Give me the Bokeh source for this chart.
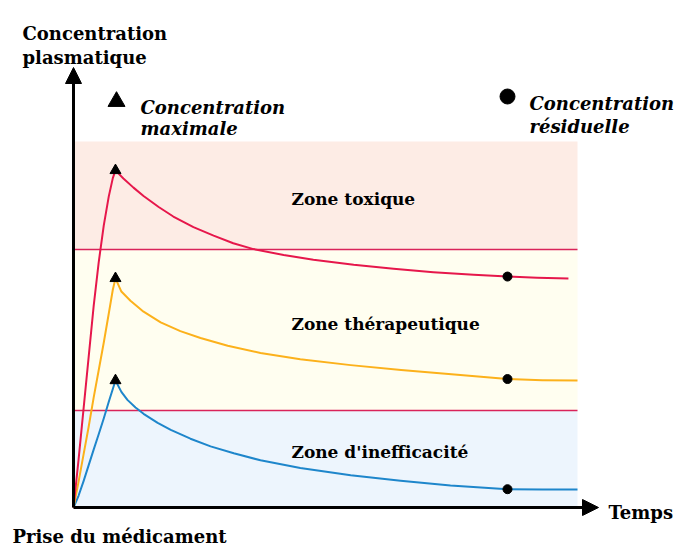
from bokeh.plotting import figure
from bokeh.models import Range1d, Label, Arrow, NormalHead
from bokeh.embed import file_html
from bokeh.resources import INLINE

# ---------------- data ----------------
# time axis: 0..100 (arbitrary units), concentration: 0..100 (arbitrary units)
zone_bounds = [0, 26.5, 70.5, 100]          # inefficacité / thérapeutique / toxique
zone_names = ["Zone d'inefficacité", "Zone thérapeutique", "Zone toxique"]

red_t = [0, 1, 2, 3, 4, 5, 6, 7, 7.8, 8.33, 9.9, 11.9, 13.9, 16.9, 19.8, 23.8,
         27.8, 31.7, 35.7, 41.7, 47.6, 55.6, 63.5, 71.4, 79.4, 86.11, 92, 98.2]
red_c = [0, 13, 27, 41, 55, 67, 77, 85, 90, 92.1, 89.9, 87.4, 85.1, 82.1, 79.5,
         76.6, 74.3, 72.2, 70.6, 69.0, 67.7, 66.3, 65.2, 64.3, 63.6, 63.1, 62.8, 62.6]

orange_t = [0, 1, 2, 3, 4, 5, 6, 7, 7.8, 8.33, 9.5, 11.3, 13.9, 17.3, 21.2, 25.2,
            30.6, 37.1, 45, 55, 65, 75, 86.11, 93, 100]
orange_c = [0, 7, 14.5, 22, 30, 37.5, 45, 53, 59.5, 62.6, 59.0, 56.5, 53.5, 50.6,
            48.2, 46.3, 44.2, 42.2, 40.5, 38.9, 37.6, 36.4, 35.1, 34.8, 34.7]

blue_t = [0, 1, 2, 3, 4, 5, 6, 7, 8.33, 9.5, 10.7, 12.3, 13.9, 16.7, 19.3, 23.2,
          27.2, 31.8, 37.1, 45, 55, 64.9, 74.8, 86.11, 93, 100]
blue_c = [0, 3.2, 7.2, 11.5, 15.8, 20.0, 24.3, 28.9, 34.7, 31.6, 29.4, 27.3,
          25.6, 23.1, 21.2, 18.8, 16.7, 14.8, 12.9, 10.8, 8.8, 7.3, 6.0, 5.0, 4.9, 4.9]

peak_t = [8.33, 8.33, 8.33]
peak_c = [92.1, 62.6, 34.7]
resid_t = [86.11, 86.11, 86.11]
resid_c = [63.1, 35.1, 5.0]

# ---------------- layout helpers ----------------
W, H = 677, 548
# picture pixel positions of data 0 and 100
PX_X0, PX_X100 = 73, 577
PX_Y0, PX_Y100 = 507, 141


def gx(px):
    return (px - PX_X0) / (PX_X100 - PX_X0) * 100


def gy(py):
    return (PX_Y0 - py) / (PX_Y0 - PX_Y100) * 100


p = figure(width=W, height=H, output_backend="svg", toolbar_location=None,
           x_range=Range1d(gx(0), gx(W)), y_range=Range1d(gy(H), gy(0)),
           x_axis_location=None, y_axis_location=None, min_border=0)
p.grid.visible = False
p.outline_line_color = None
p.background_fill_color = "white"
p.border_fill_color = "white"

# zones
zone_colors = ["#EDF5FD", "#FFFEF0", "#FDECE5"]
for i in range(3):
    p.quad(left=0, right=100, bottom=zone_bounds[i], top=zone_bounds[i + 1],
           fill_color=zone_colors[i], line_color=None)

# thresholds
for b in zone_bounds[1:3]:
    p.line([0, 100], [b, b], line_color="#D9235A", line_width=1.6)

# curves
p.line(blue_t, blue_c, line_color="#1E86CB", line_width=2, line_join="round")
p.line(orange_t, orange_c, line_color="#FCB11B", line_width=2, line_join="round")
p.line(red_t, red_c, line_color="#E6174B", line_width=2, line_join="round")

# markers
p.scatter(peak_t, peak_c, marker="triangle", size=11, color="black")
p.scatter(resid_t, resid_c, marker="circle", size=9, color="black")

# axes with arrows
p.add_layout(Arrow(x_start=0, y_start=0, x_end=0, y_end=gy(67), line_width=3,
                   line_color="black",
                   end=NormalHead(size=16, fill_color="black", line_color="black")))
p.add_layout(Arrow(x_start=0, y_start=0, x_end=gx(598), y_end=0, line_width=3,
                   line_color="black",
                   end=NormalHead(size=16, fill_color="black", line_color="black")))

FONT = "DejaVu Serif"


def lab(text, px, py, size=17, style="bold", align="left"):
    p.add_layout(Label(x=gx(px), y=gy(py), text=text, text_font=FONT,
                       text_font_size=f"{size}px", text_font_style=style,
                       text_align=align, text_baseline="alphabetic",
                       text_color="black"))


# zone labels
lab(zone_names[2], 291, 198)
lab(zone_names[1], 291, 323)
lab(zone_names[0], 291, 451)

# axis titles
lab("Concentration", 22, 33, size=18)
lab("plasmatique", 22, 57, size=18)
lab("Prise du médicament", 12, 536, size=18)
lab("Temps", 608, 512, size=18)

# legend
p.scatter([gx(116)], [gy(101)], marker="triangle", size=17, color="black")
lab("Concentration", 140, 107, size=18, style="bold italic")
lab("maximale", 140, 128, size=18, style="bold italic")
p.scatter([gx(507)], [gy(96)], marker="circle", size=15, color="black")
lab("Concentration", 529, 103, size=18, style="bold italic")
lab("résiduelle", 529, 126, size=18, style="bold italic")

open("out.html", "w").write(file_html(p, INLINE))
